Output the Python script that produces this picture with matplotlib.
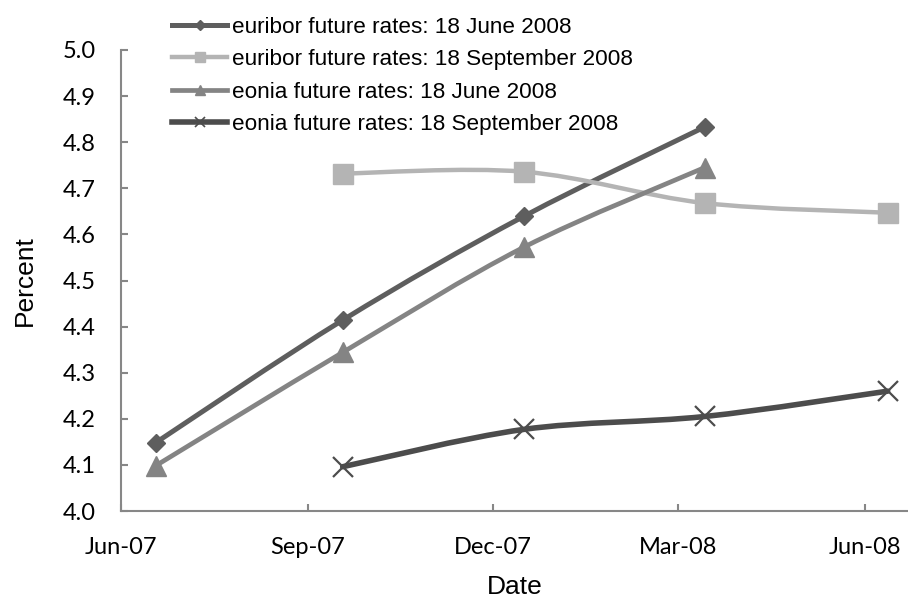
import datetime as dt

import matplotlib
matplotlib.use("Agg")
import matplotlib.dates as mdates
import numpy as np
from matplotlib import pyplot as plt
from matplotlib.lines import Line2D
from matplotlib.patches import PathPatch
from matplotlib.path import Path

# contract dates
DATES_JUN = [dt.date(2007, 6, 18), dt.date(2007, 9, 18), dt.date(2007, 12, 16), dt.date(2008, 3, 14)]
DATES_SEP = [dt.date(2007, 9, 18), dt.date(2007, 12, 16), dt.date(2008, 3, 14), dt.date(2008, 6, 12)]

EURIBOR_JUN = [4.148, 4.414, 4.639, 4.833]
EURIBOR_SEP = [4.732, 4.736, 4.668, 4.647]
EONIA_JUN = [4.098, 4.344, 4.572, 4.745]
EONIA_SEP = [4.096, 4.177, 4.205, 4.260]

LABELS = [
    "euribor future rates: 18 June 2008",
    "euribor future rates: 18 September 2008",
    "eonia future rates: 18 June 2008",
    "eonia future rates: 18 September 2008",
]
TICK_DATES = [dt.date(2007, 6, 1), dt.date(2007, 9, 1), dt.date(2007, 12, 1),
              dt.date(2008, 3, 1), dt.date(2008, 6, 1)]
TICK_LABELS = ["Jun-07", "Sep-07", "Dec-07", "Mar-08", "Jun-08"]
Y_TICKS = [4.0, 4.1, 4.2, 4.3, 4.4, 4.5, 4.6, 4.7, 4.8, 4.9, 5.0]

STYLES = [
    dict(color="#5e5e5e", marker="D", ms=9.5, lw=3.6),
    dict(color="#b4b4b4", marker="s", ms=14, lw=3.2),
    dict(color="#848484", marker="^", ms=14, lw=3.4),
    dict(color="#4c4c4c", marker="x", ms=14, lw=4.0),
]


def smooth_path(x, y):
    """excel-like smoothed line as a chain of cubic beziers"""
    pts = np.column_stack([x, y])
    verts = [pts[0]]
    codes = [Path.MOVETO]
    n = len(pts)
    for i in range(n - 1):
        p0 = pts[max(i - 1, 0)]
        p1 = pts[i]
        p2 = pts[i + 1]
        p3 = pts[min(i + 2, n - 1)]
        c1 = p1 + (p2 - p0) / 6.0
        c2 = p2 - (p3 - p1) / 6.0
        verts += [c1, c2, p2]
        codes += [Path.CURVE4] * 3
    return Path(verts, codes)


fig = plt.figure(figsize=(9.08, 5.99), dpi=100)
ax = fig.add_axes([121 / 908, 1 - 511 / 599, 1 - 121 / 908, (511 - 50) / 599])

series = [
    (DATES_JUN, EURIBOR_JUN),
    (DATES_SEP, EURIBOR_SEP),
    (DATES_JUN, EONIA_JUN),
    (DATES_SEP, EONIA_SEP),
]
handles = []
for (dates, vals), st, label in zip(series, STYLES, LABELS):
    xs = mdates.date2num(dates)
    patch = PathPatch(smooth_path(xs, vals), facecolor="none",
                      edgecolor=st["color"], lw=st["lw"], capstyle="round")
    ax.add_patch(patch)
    if st["marker"] == "x":
        ax.plot(xs, vals, ls="none", marker="x", ms=st["ms"], mew=1.6,
                color=st["color"], zorder=3)
    else:
        ax.plot(xs, vals, ls="none", marker=st["marker"], ms=st["ms"],
                color=st["color"], mec=st["color"], zorder=3)
    handles.append(Line2D([], [], color=st["color"], lw=st["lw"],
                          marker=st["marker"], ms=st["ms"] * 0.55,
                          mew=1.2 if st["marker"] == "x" else 1.0))

ax.set_xlim(mdates.date2num(dt.date(2007, 6, 1)), mdates.date2num(dt.date(2008, 6, 22)))
ax.set_ylim(4.0, 5.0)
ax.set_xticks(mdates.date2num(TICK_DATES))
ax.set_xticklabels(TICK_LABELS)
ax.set_yticks(Y_TICKS)
ax.set_yticklabels([f"{v:.1f}" for v in Y_TICKS])

for side in ("top", "right"):
    ax.spines[side].set_visible(False)
for side in ("left", "bottom"):
    ax.spines[side].set_color("#878787")
    ax.spines[side].set_linewidth(1.5)
ax.tick_params(direction="in", length=5, width=1.5, color="#878787")
ax.tick_params(axis="y", pad=18)
ax.tick_params(axis="x", pad=19)
for lab in ax.get_xticklabels() + ax.get_yticklabels():
    lab.set_fontfamily("Lato")
    lab.set_fontsize(17)

ax.set_xlabel("Date", fontfamily="Liberation Sans", fontsize=19, labelpad=12)
ax.set_ylabel("Percent", fontfamily="Liberation Sans", fontsize=19, labelpad=19)

leg = fig.legend(handles, LABELS, loc="upper left", bbox_to_anchor=(172 / 908, 1 - 17 / 599),
                 frameon=False, prop={"family": "Liberation Sans", "size": 16.2},
                 handlelength=2.45, handletextpad=0.22, labelspacing=0.5,
                 borderpad=0, borderaxespad=0)

fig.savefig("out.png", dpi=100)
